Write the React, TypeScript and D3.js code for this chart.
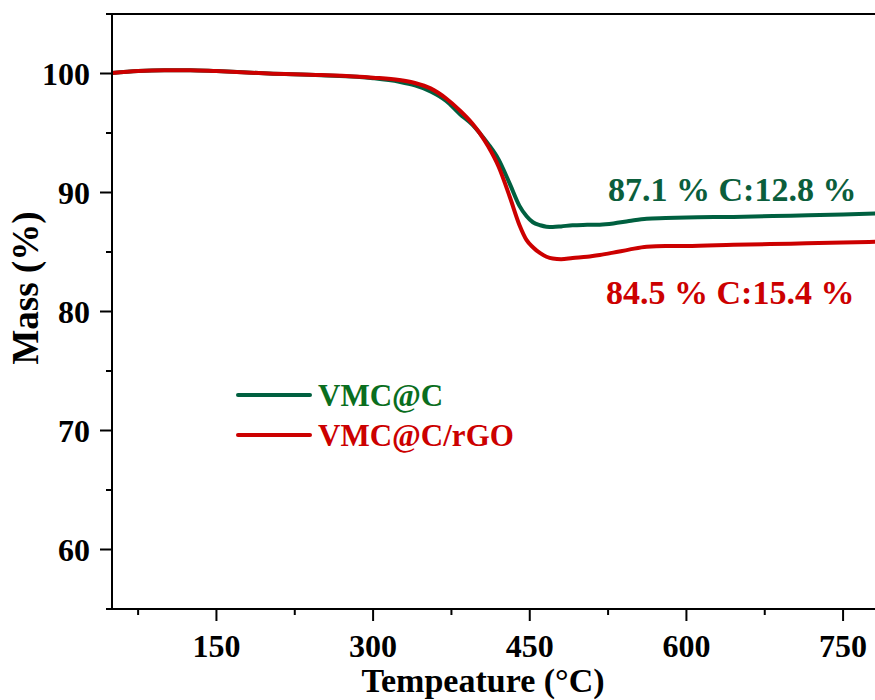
import React from "react";
import * as d3 from "d3";

const temps = [50, 75, 100, 125, 150, 200, 250, 300, 325, 340, 355, 370, 383, 395, 402, 410, 420, 431, 440, 447, 453, 460, 466, 472, 480, 491, 505, 517, 530, 545, 562, 580, 600, 645, 700, 750, 800];
const massVMC = [100.05, 100.2, 100.27, 100.28, 100.2, 100.0, 99.85, 99.6, 99.3, 99.0, 98.5, 97.7, 96.6, 95.7, 95.0, 94.1, 92.8, 90.7, 88.9, 88.0, 87.5, 87.25, 87.13, 87.1, 87.15, 87.25, 87.28, 87.3, 87.4, 87.6, 87.8, 87.85, 87.9, 87.95, 88.05, 88.15, 88.3];
const massRGO = [100.05, 100.2, 100.27, 100.28, 100.2, 100.0, 99.87, 99.65, 99.45, 99.2, 98.75, 97.9, 96.9, 95.8, 95.0, 93.9, 92.2, 89.6, 87.3, 86.0, 85.4, 84.9, 84.6, 84.45, 84.4, 84.5, 84.6, 84.75, 84.95, 85.2, 85.45, 85.5, 85.5, 85.6, 85.7, 85.8, 85.9];

const xMajor = [150, 300, 450, 600, 750];
const xMinor = [75, 225, 375, 525, 675];
const yMajor = [60, 70, 80, 90, 100];
const yMinor = [55, 65, 75, 85, 95, 105];

const seriesNames = ["VMC@C", "VMC@C/rGO"];
const annotations = ["87.1 % C:12.8 %", "84.5 % C:15.4 %"];

const GREEN = "#006040";
const RED = "#cc0000";
const FONT = "'Liberation Serif', 'Times New Roman', serif";

export default function App() {
  const left = 112, top = 14, bottom = 609;
  const x = d3.scaleLinear().domain([50, 800]).range([left, left + 750 * 1.0444]);
  const y = d3.scaleLinear().domain([55, 105]).range([bottom, top]);
  const line = d3
    .line<number>()
    .x((_, i) => x(temps[i]))
    .y((d) => y(d))
    .curve(d3.curveMonotoneX);
  const right = x(800);

  return (
    <svg
      width={875}
      height={700}
      style={{ position: "absolute", left: 0, top: 0, background: "#fff" }}
      fontFamily={FONT}
      fontWeight="bold"
    >
      <rect x={0} y={0} width={875} height={700} fill="#fff" />
      <path d={line(massVMC) || ""} fill="none" stroke={GREEN} strokeWidth={4} />
      <path d={line(massRGO) || ""} fill="none" stroke={RED} strokeWidth={4} />

      {/* frame */}
      <line x1={left} x2={right} y1={top} y2={top} stroke="#000" strokeWidth={2} />
      <line x1={left} x2={right} y1={bottom} y2={bottom} stroke="#000" strokeWidth={2} />
      <line x1={left} x2={left} y1={top - 1} y2={bottom + 1} stroke="#000" strokeWidth={2} />

      {/* y ticks */}
      {yMajor.map((v) => (
        <g key={"ym" + v}>
          <line x1={left - 12} x2={left} y1={y(v)} y2={y(v)} stroke="#000" strokeWidth={2} />
          <text x={90} y={y(v)} dy="0.35em" textAnchor="end" fontSize={32}>
            {v}
          </text>
        </g>
      ))}
      {yMinor.map((v) => (
        <line key={"yn" + v} x1={left - 6} x2={left} y1={y(v)} y2={y(v)} stroke="#000" strokeWidth={2} />
      ))}

      {/* x ticks */}
      {xMajor.map((v) => (
        <g key={"xm" + v}>
          <line x1={x(v)} x2={x(v)} y1={bottom} y2={bottom + 12} stroke="#000" strokeWidth={2} />
          <text x={x(v)} y={657} textAnchor="middle" fontSize={32}>
            {v}
          </text>
        </g>
      ))}
      {xMinor.map((v) => (
        <line key={"xn" + v} x1={x(v)} x2={x(v)} y1={bottom} y2={bottom + 6} stroke="#000" strokeWidth={2} />
      ))}

      {/* axis titles */}
      <text x={483} y={692} textAnchor="middle" fontSize={34}>
        Tempeature (°C)
      </text>
      <text transform="translate(38,288) rotate(-90)" textAnchor="middle" fontSize={37}>
        Mass (%)
      </text>

      {/* legend */}
      <line x1={238} x2={310} y1={395} y2={395} stroke={GREEN} strokeWidth={4} strokeLinecap="round" />
      <text x={318} y={406} fontSize={31} fill="#0a6e1e">
        {seriesNames[0]}
      </text>
      <line x1={238} x2={310} y1={435} y2={435} stroke={RED} strokeWidth={4} strokeLinecap="round" />
      <text x={318} y={446} fontSize={31} fill={RED}>
        {seriesNames[1]}
      </text>

      {/* annotations */}
      <text x={608} y={201} fontSize={34} fill="#0b5e3c">
        {annotations[0]}
      </text>
      <text x={606} y={304} fontSize={34} fill={RED}>
        {annotations[1]}
      </text>
    </svg>
  );
}
